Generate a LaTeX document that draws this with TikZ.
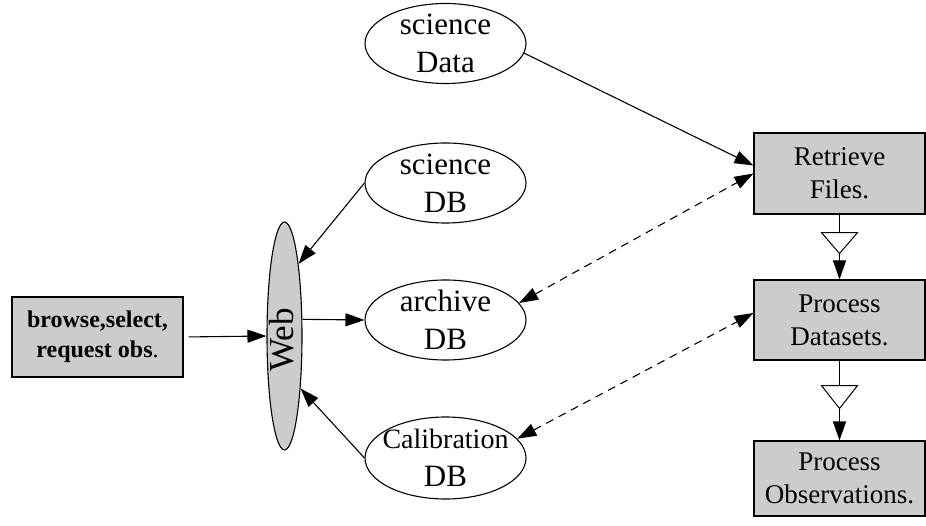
\documentclass[tikz,border=0pt]{standalone}
\usepackage{fontspec}
\setmainfont{Liberation Serif}
\usetikzlibrary{arrows.meta,shapes.geometric,calc}
\definecolor{boxgray}{gray}{0.8}
\begin{document}
\begin{tikzpicture}[x=1pt,y=-1pt,
  line width=1.1pt,
  tip/.style={-{Triangle[length=19pt,width=13pt]}},
  both/.style={{Triangle[length=19pt,width=13pt]}-{Triangle[length=19pt,width=13pt]}, dash pattern=on 8pt off 6pt},
  oval/.style={ellipse, draw, minimum width=161pt, minimum height=80pt, inner sep=0pt},
  ovaltext/.style={font=\fontsize{31}{38}\selectfont, align=center, inner sep=0pt},
  box/.style={rectangle, draw, fill=boxgray, minimum width=171pt, inner sep=0pt, align=center, font=\fontsize{27}{33}\selectfont},
  opentri/.style={fill=white, line width=1pt}
]
\useasboundingbox (0,0) rectangle (926,526);

% ellipses
\node[oval] (sd) at (445.5,43.5) {};
\node[ovaltext] (sdt) at (sd.center) {science\\Data};
\node[oval] (sdb) at (445.5,183) {};
\node[ovaltext] (sdbt) at (sdb.center) {science\\DB};
\node[oval] (ar) at (445.5,320) {};
\node[ovaltext] (art) at (ar.center) {archive\\DB};
\node[oval, minimum height=82pt] (cal) at (445.5,458) {};
\node[ovaltext] (calt) at (cal.center) {{\fontsize{28}{38}\selectfont Calibration}\\DB};

% web
\node[ellipse, draw, fill=boxgray, minimum width=35pt, minimum height=228pt, inner sep=0pt] (web) at (284.5,336) {};
\node[rotate=90, font=\fontsize{35}{40}\selectfont, inner sep=0pt] (webt) at ($(web.center)+(-3,4)$) {Web};

% boxes
\node[box, minimum height=80pt, font=\fontsize{24}{30}\selectfont\bfseries] (br) at (97.5,337) {browse,select,\\request obs{\mdseries .}};
\node[box, minimum height=81pt] (rf) at (839.5,173.5) {Retrieve\\Files.};
\node[box, minimum height=80pt] (pd) at (839.5,320) {Process\\Datasets.};
\node[box, minimum height=75pt] (po) at (839.5,478.5) {Process\\Observations.};

% connectors
\draw[tip] (sd.-7) -- ($(rf.west)+(0,-8)$);
\draw[tip] (sdb.west) -- (web.79);
\draw[tip] (cal.west) -- (web.-73);
\draw[tip] (web.43) -- (ar.west);
\draw[tip, shorten <=5pt] (br.east) -- (web.west);
\draw[both] (ar.13) -- (rf.west);
\draw[both] (cal.15) -- ($(pd.west)+(0,-7)$);

\draw[tip] (rf.south) -- (pd.north);
\draw[opentri] ($(rf.south)+(-18,18)$) -- ($(rf.south)+(18,18)$) -- ($(rf.south)+(0,39)$) -- cycle;
\draw[tip] (pd.south) -- (po.north);
\draw[opentri] ($(pd.south)+(-18,25)$) -- ($(pd.south)+(18,25)$) -- ($(pd.south)+(0,48)$) -- cycle;
\end{tikzpicture}
\end{document}
